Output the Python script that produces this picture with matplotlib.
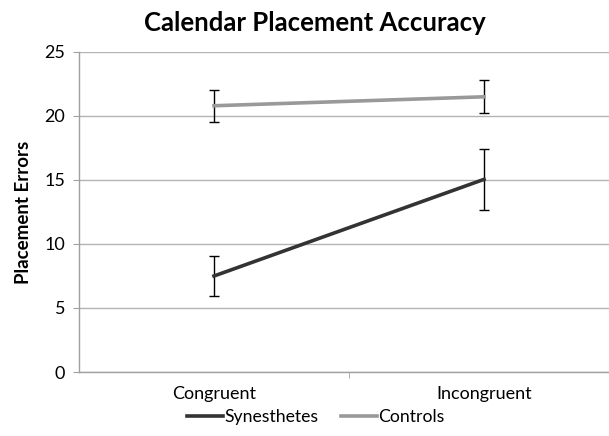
import matplotlib.pyplot as plt

plt.rcParams['font.family'] = ['Lato', 'DejaVu Sans']

# Data
conditions = ['Congruent', 'Incongruent']
synesthetes = [7.5, 15.05]
synesthetes_err = [1.6, 2.4]
controls = [20.8, 21.5]
controls_err = [1.25, 1.3]

fig = plt.figure(figsize=(6.09, 4.36), dpi=100)
# axes run past the right edge, like the cropped original
ax = fig.add_axes([79 / 609, 1 - 372 / 436, 540 / 609, 320 / 436])

x = range(len(conditions))
ax.errorbar(x, synesthetes, yerr=synesthetes_err, color='#333333', lw=2.6,
            ecolor='black', elinewidth=1, capsize=3.5, capthick=1,
            label='Synesthetes', zorder=3)
ax.errorbar(x, controls, yerr=controls_err, color='#999999', lw=2.6,
            ecolor='black', elinewidth=1, capsize=3.5, capthick=1,
            label='Controls', zorder=3)

ax.set_xlim(-0.5, 1.5)
ax.set_ylim(0, 25)
ax.set_yticks(range(0, 26, 5))
ax.yaxis.grid(True, color='#b3b3b3', lw=1)
ax.set_axisbelow(True)

ax.set_xticks(list(x))
ax.set_xticklabels(conditions, fontsize=13)
ax.set_xticks([0.5], minor=True)
ax.tick_params(axis='x', which='major', length=0, pad=10)
ax.tick_params(axis='x', which='minor', length=4, color='#a0a0a0', direction='out')
ax.tick_params(axis='y', length=4, color='#a0a0a0', labelsize=13, pad=6)

for s in ['top', 'right']:
    ax.spines[s].set_visible(False)
for s in ['left', 'bottom']:
    ax.spines[s].set_color('#a0a0a0')
    ax.spines[s].set_linewidth(1)

ax.set_ylabel('Placement Errors', fontsize=13.5, fontweight='bold', labelpad=9)
fig.text(315 / 609, 1 - 23 / 436, 'Calendar Placement Accuracy', ha='center',
         va='center', fontsize=18.5, fontweight='bold')

handles, labels = ax.get_legend_handles_labels()
handles = [h[0] for h in handles]
fig.legend(handles, labels, loc='center', bbox_to_anchor=(316 / 609, 1 - 417 / 436),
           ncol=2, frameon=False, fontsize=12.7, handlelength=2.0,
           handletextpad=0.1, columnspacing=1.3)

fig.savefig('out.png', dpi=100)
